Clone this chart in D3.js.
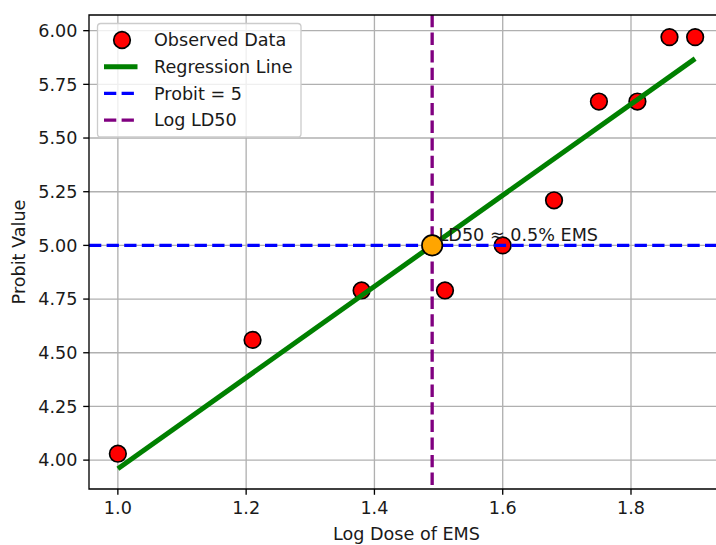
<!DOCTYPE html>
<html>
<head>
<meta charset="utf-8">
<script src="https://cdn.jsdelivr.net/npm/d3@7"></script>
<style>
  html, body { margin: 0; padding: 0; background: #fff; }
  svg { display: block; font-family: "DejaVu Sans", sans-serif; }
</style>
</head>
<body>
<div id="chart"></div>
<script>
// observed points (log dose vs probit)
const logDose = [1.0, 1.21, 1.38, 1.51, 1.60, 1.68, 1.75, 1.81, 1.86, 1.90];
const probit = [4.03, 4.56, 4.79, 4.79, 5.00, 5.21, 5.67, 5.67, 5.97, 5.97];

// fitted line endpoints
const regX = [1.0, 1.9];
const regY = [3.96, 5.87];

const probitRef = 5;
const logLD50 = 1.49;
const ldLabel = 'LD50 ≈ 0.5% EMS';

const xTicks = [1.0, 1.2, 1.4, 1.6, 1.8];
const yTicks = [4.0, 4.25, 4.5, 4.75, 5.0, 5.25, 5.5, 5.75, 6.0];

const legendItems = [
  { label: 'Observed Data', kind: 'dot', color: 'red' },
  { label: 'Regression Line', kind: 'line', color: '#008000' },
  { label: 'Probit = 5', kind: 'dash', color: '#0000ff' },
  { label: 'Log LD50', kind: 'dash', color: '#800080' }
];

const W = 716, H = 545;
const m = { left: 89, top: 15, right: 724, bottom: 489 };
const fs = 17.6;

const x = d3.scaleLinear().domain([0.955, 1.945]).range([m.left, m.right]);
const y = d3.scaleLinear().domain([3.8655, 6.073]).range([m.bottom, m.top]);

const svg = d3.select('#chart').append('svg')
  .attr('width', W).attr('height', H)
  .attr('viewBox', [0, 0, W, H]);

svg.append('defs').append('clipPath').attr('id', 'plot')
  .append('rect').attr('x', m.left).attr('y', m.top)
  .attr('width', m.right - m.left).attr('height', m.bottom - m.top);

// grid
const grid = svg.append('g').attr('stroke', '#b0b0b0').attr('stroke-width', 1.33);
grid.selectAll('.gx').data(xTicks).join('line')
  .attr('x1', d => x(d)).attr('x2', d => x(d))
  .attr('y1', m.top).attr('y2', m.bottom);
grid.selectAll('.gy').data(yTicks).join('line')
  .attr('y1', d => y(d)).attr('y2', d => y(d))
  .attr('x1', m.left).attr('x2', m.right);

const plot = svg.append('g').attr('clip-path', 'url(#plot)');

// observed points
plot.append('g').selectAll('circle')
  .data(logDose.map((d, i) => [d, probit[i]])).join('circle')
  .attr('cx', d => x(d[0])).attr('cy', d => y(d[1]))
  .attr('r', 8.3)
  .attr('fill', 'red').attr('stroke', '#000').attr('stroke-width', 1.67);

// regression line
plot.append('line')
  .attr('x1', x(regX[0])).attr('y1', y(regY[0]))
  .attr('x2', x(regX[1])).attr('y2', y(regY[1]))
  .attr('stroke', '#008000').attr('stroke-width', 5);

// reference lines
plot.append('line')
  .attr('x1', m.left).attr('x2', m.right)
  .attr('y1', y(probitRef)).attr('y2', y(probitRef))
  .attr('stroke', '#0000ff').attr('stroke-width', 3.33)
  .attr('stroke-dasharray', '12.3,5.3');
plot.append('line')
  .attr('x1', x(logLD50)).attr('x2', x(logLD50))
  .attr('y1', m.top).attr('y2', m.bottom)
  .attr('stroke', '#800080').attr('stroke-width', 3.33)
  .attr('stroke-dasharray', '12.3,5.3');

// LD50 point
plot.append('circle')
  .attr('cx', x(logLD50)).attr('cy', y(probitRef))
  .attr('r', 10.2)
  .attr('fill', 'orange').attr('stroke', '#000').attr('stroke-width', 1.67);

svg.append('text')
  .attr('x', x(logLD50 + 0.01)).attr('y', y(5.02))
  .attr('font-size', fs).attr('fill', '#1a1a1a')
  .text(ldLabel);

// spines (right side falls outside the picture)
svg.append('path')
  .attr('d', `M${m.left},${m.bottom}V${m.top}H${m.right}V${m.bottom}Z`)
  .attr('fill', 'none').attr('stroke', '#000').attr('stroke-width', 1.33);

// ticks
const xt = svg.append('g');
xTicks.forEach(t => {
  xt.append('line').attr('x1', x(t)).attr('x2', x(t))
    .attr('y1', m.bottom).attr('y2', m.bottom + 5.8)
    .attr('stroke', '#000').attr('stroke-width', 1.33);
  xt.append('text').attr('x', x(t)).attr('y', m.bottom + 25)
    .attr('text-anchor', 'middle').attr('font-size', fs).attr('fill', '#1a1a1a')
    .text(d3.format('.1f')(t));
});
const yt = svg.append('g');
yTicks.forEach(t => {
  yt.append('line').attr('x1', m.left - 5.8).attr('x2', m.left)
    .attr('y1', y(t)).attr('y2', y(t))
    .attr('stroke', '#000').attr('stroke-width', 1.33);
  yt.append('text').attr('x', m.left - 11.6).attr('y', y(t))
    .attr('dy', '0.36em')
    .attr('text-anchor', 'end').attr('font-size', fs).attr('fill', '#1a1a1a')
    .text(d3.format('.2f')(t));
});

svg.append('text')
  .attr('x', (m.left + m.right) / 2).attr('y', 540)
  .attr('text-anchor', 'middle').attr('font-size', fs).attr('fill', '#1a1a1a')
  .text('Log Dose of EMS');
svg.append('text')
  .attr('transform', `translate(25,${(m.top + m.bottom) / 2}) rotate(-90)`)
  .attr('text-anchor', 'middle').attr('font-size', fs).attr('fill', '#1a1a1a')
  .text('Probit Value');

// legend
const lg = svg.append('g');
lg.append('rect')
  .attr('x', 97.5).attr('y', 23.5).attr('width', 203.5).attr('height', 113.5)
  .attr('rx', 3.3)
  .attr('fill', 'rgba(255,255,255,0.8)').attr('stroke', '#cccccc').attr('stroke-width', 1.33);
legendItems.forEach((it, i) => {
  const cy = 40 + i * 26.7;
  if (it.kind === 'dot') {
    lg.append('circle').attr('cx', 122).attr('cy', cy).attr('r', 8.3)
      .attr('fill', it.color).attr('stroke', '#000').attr('stroke-width', 1.67);
  } else {
    lg.append('line').attr('x1', 104).attr('x2', 137.5)
      .attr('y1', cy).attr('y2', cy)
      .attr('stroke', it.color)
      .attr('stroke-width', it.kind === 'line' ? 5 : 3.33)
      .attr('stroke-dasharray', it.kind === 'dash' ? '12.3,5.3' : null);
  }
  lg.append('text').attr('x', 154).attr('y', cy).attr('dy', '0.36em')
    .attr('font-size', fs).attr('fill', '#1a1a1a')
    .text(it.label);
});
</script>
</body>
</html>
